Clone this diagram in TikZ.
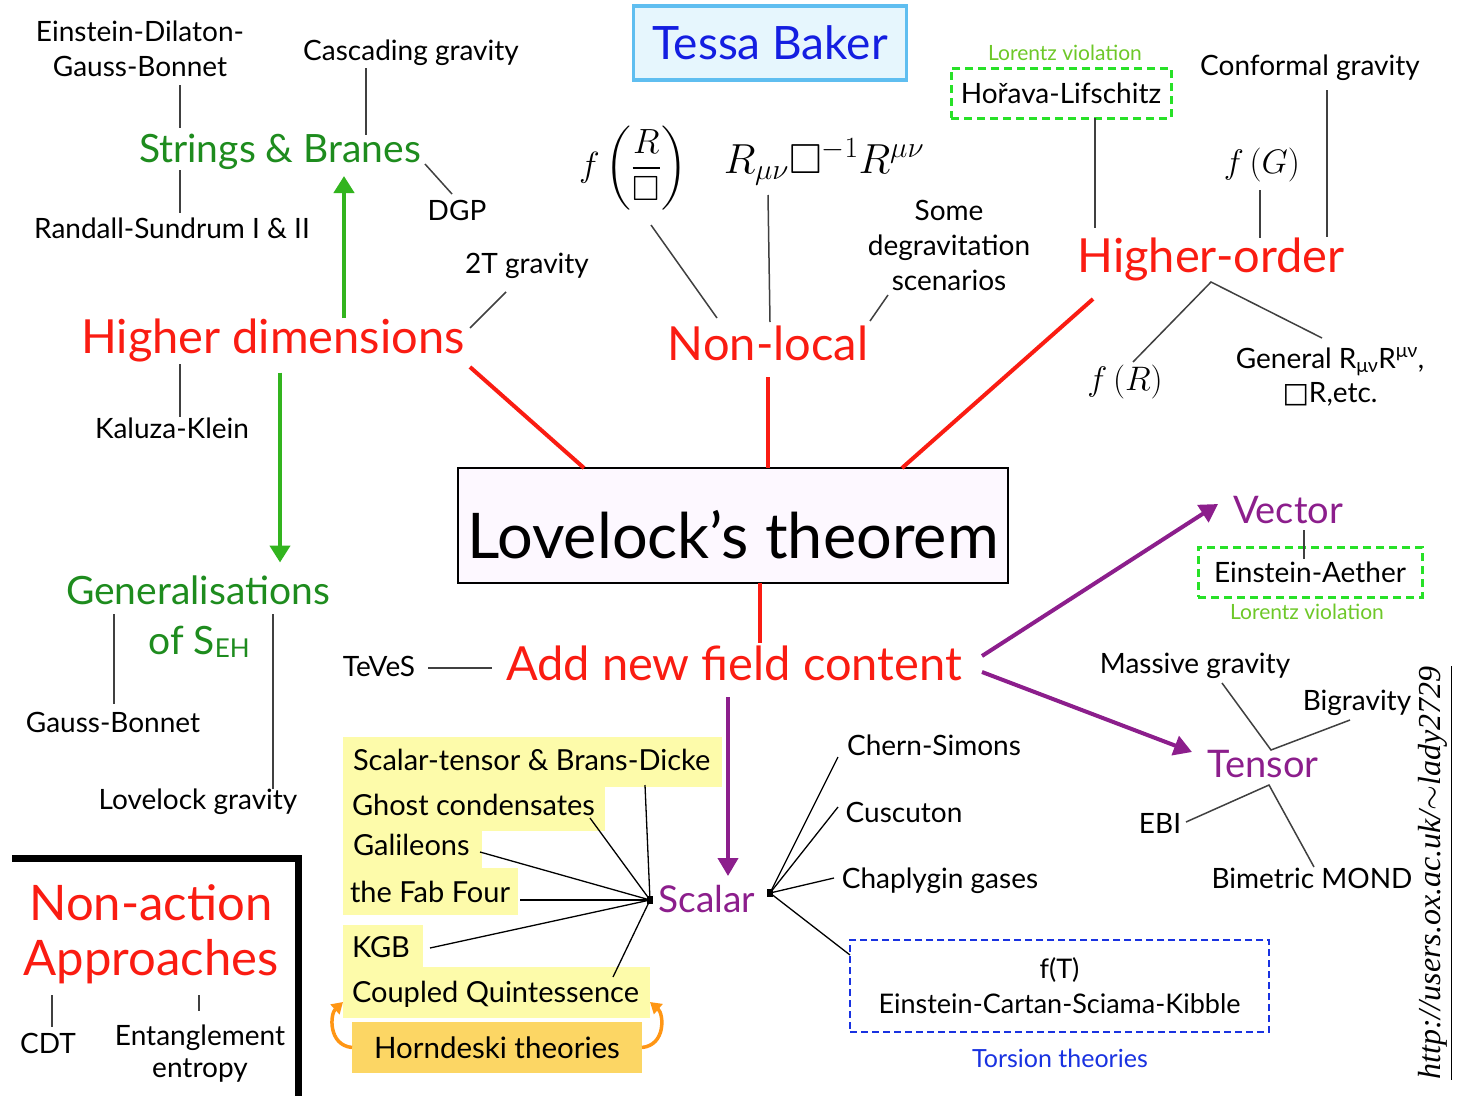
\RequirePackage{fix-cm}
\documentclass[tikz,border=0pt]{standalone}
\usepackage{amssymb}
\usepackage[no-math]{fontspec}
\setmainfont{Lato}
\newfontfamily\djv{DejaVu Sans}
\newfontfamily\urlfont{Liberation Serif}
\usetikzlibrary{arrows.meta}
\definecolor{hred}{RGB}{250,28,18}
\definecolor{dgreen}{RGB}{30,140,30}
\definecolor{agreen}{RGB}{50,180,30}
\definecolor{lgreen}{RGB}{40,225,40}
\definecolor{lvgreen}{RGB}{110,200,40}
\definecolor{purp}{RGB}{140,30,140}
\definecolor{tblue}{RGB}{20,30,225}
\definecolor{tboxfill}{RGB}{230,246,253}
\definecolor{tboxdraw}{RGB}{95,190,240}
\definecolor{yel}{RGB}{253,251,170}
\definecolor{dyel}{RGB}{252,214,100}
\definecolor{orng}{RGB}{255,150,20}
\definecolor{lavfill}{RGB}{253,248,255}
\definecolor{torblue}{RGB}{25,50,225}
\newcommand\fsz[2]{\fontsize{#1}{#2}\selectfont}
\begin{document}
\begin{tikzpicture}[x=1pt,y=-1pt,
  every node/.style={inner sep=0pt, outer sep=0pt},
  lbl/.style={font=\fsz{28}{34}, anchor=base},
  redhead/.style={font=\fsz{47}{54}, text=hred, anchor=base},
  grnhead/.style={font=\fsz{39}{46}, text=dgreen, anchor=base},
  purhead/.style={font=\fsz{38}{44}, text=purp, anchor=base},
  lvtext/.style={font=\fsz{21}{25}, text=lvgreen, anchor=base},
  ylbl/.style={font=\fsz{29}{34}, anchor=base west},
  conn/.style={draw=black!75, line width=1.5pt},
  sconn/.style={draw=black, line width=1.3pt},
  redconn/.style={draw=hred, line width=4pt},
  grnarrow/.style={draw=agreen, line width=4.5pt, -{Triangle[length=17pt,width=20pt]}},
  purarrow/.style={draw=purp, line width=4pt, -{Triangle[length=18pt,width=20pt]}},
  oarrow/.style={draw=orng, line width=3.5pt, -{Triangle[length=11pt,width=13pt]}},
  titlebox/.style={fill=tboxfill, draw=tboxdraw, line width=3.5pt, minimum width=273pt, minimum height=74pt, font=\fsz{46}{52}, text=tblue},
  lovbox/.style={fill=lavfill, draw=black, line width=2.5pt, minimum width=550pt, minimum height=115pt, text height=65pt, text depth=0pt, font=\fsz{63}{70}},
  lorbox/.style={draw=lgreen, line width=3pt, dash pattern=on 8pt off 5pt, minimum width=220pt, minimum height=50pt, font=\fsz{28}{34}},
  torbox/.style={draw=torblue, line width=2.5pt, dash pattern=on 7pt off 4pt, minimum width=419pt, minimum height=92pt, align=center, font=\fsz{27}{35}},
  hbox/.style={fill=dyel, minimum width=290pt, minimum height=51pt, font=\fsz{29.5}{34}},
  dotn/.style={fill=black, minimum width=6pt, minimum height=8pt}
]
\fill[white] (0,0) rectangle (1459,1095);
\useasboundingbox (0,0) rectangle (1459,1095);

% yellow highlights
\fill[yel] (343,737) rectangle (722,787);
\fill[yel] (343,786) rectangle (605,831);
\fill[yel] (343,830) rectangle (482,869);
\fill[yel] (343,868) rectangle (518,915);
\fill[yel] (343,925) rectangle (423,968);
\fill[yel] (343,967) rectangle (650,1018);

% ---------- nodes: top left
\node[lbl] (ed1) at (140,41) {Einstein-Dilaton-};
\node[lbl] (ed2) at (140,76) {Gauss-Bonnet};
\node[lbl] (cas) at (411,60) {Cascading gravity};
\node[grnhead] (sb) at (280,162) {Strings \& Branes};
\node[lbl] (rs) at (172,238) {Randall-Sundrum I \& II};
\node[lbl] (dgp) at (457,220) {DGP};
\node[lbl] (tt) at (527,273) {2T gravity};
\node[redhead] (hd) at (273,353) {Higher dimensions};
\node[lbl] (kk) at (172,438) {Kaluza-Klein};
\node[grnhead] (gen1) at (198,604) {Generalisations};
\node[grnhead] (gen2) at (199,654) {of S\raisebox{-3pt}{\fsz{26}{30}EH}};
\node[lbl] (gb) at (113,732) {Gauss-Bonnet};
\node[lbl] (lg) at (198,809.5) {Lovelock gravity};
\node[lbl] (teves) at (379,676.5) {TeVeS};

% ---------- top middle
\node[titlebox] (tessa) at (770,43) {Tessa Baker};
\node[font=\fsz{35}{40}] (fr) at (633,168) {$\displaystyle f\left(\frac{R}{\Box}\right)$};
\node[anchor=base, font=\fsz{42}{48}] (rr) at (824,173) {$R_{\mu\nu}\Box^{-1}R^{\mu\nu}$};
\node[redhead] (nl) at (768,360) {Non-local};
\node[lbl] (some1) at (949,220) {Some};
\node[lbl] (some2) at (949,255) {degravitation};
\node[lbl] (some3) at (949,290) {scenarios};

% ---------- top right
\node[lvtext] (lv1) at (1065,60) {Lorentz violation};
\node[lorbox] (hl) at (1061,93) {Hořava-Lifschitz};
\node[lbl] (cg) at (1310,75) {Conformal gravity};
\node[font=\fsz{34}{40}] (fg) at (1262,165) {$f\left(G\right)$};
\node[redhead] (ho) at (1211,272) {Higher-order};
\node[font=\fsz{34}{40}] (fR) at (1125,382) {$f\left(R\right)$};
\node[lbl] (gen) at (1330,368) {General R\textsubscript{μν}R\textsuperscript{μν},};
\node[lbl] (etc) at (1330,402) {{\djv □}R,etc.};

% ---------- centre
\node[lovbox] (lov) at (733,525.5) {Lovelock’s theorem};
\node[redhead] (anf) at (734,680) {Add new field content};

% ---------- right
\node[purhead] (vec) at (1288,523) {Vector};
\node[lorbox, minimum width=224pt] (ea) at (1310,572) {Einstein-Aether};
\node[lvtext] (lv2) at (1307,619) {Lorentz violation};
\node[purhead] (ten) at (1263,777) {Tensor};
\node[lbl] (mg) at (1195,673) {Massive gravity};
\node[lbl] (bg) at (1357,710) {Bigravity};
\node[lbl] (ebi) at (1160,833) {EBI};
\node[lbl] (bm) at (1312,888) {Bimetric MOND};

% ---------- scalar
\node[purhead, font=\fsz{37}{42}] (sc) at (707,912) {Scalar};
\node[dotn] (dl) at (650,900) {};
\node[dotn] (dr) at (770,893) {};
\node[ylbl] (stbd) at (353,770) {Scalar-tensor \& Brans-Dicke};
\node[ylbl] (gh) at (352,815) {Ghost condensates};
\node[ylbl] (gal) at (353,855) {Galileons};
\node[ylbl] (ff) at (350,902) {the Fab Four};
\node[ylbl] (kgb) at (352,957) {KGB};
\node[ylbl] (cq) at (352,1002) {Coupled Quintessence};
\node[hbox] (hr) at (497,1047.5) {Horndeski theories};
\node[lbl] (cs) at (934,755) {Chern-Simons};
\node[lbl] (cu) at (904,822) {Cuscuton};
\node[lbl] (ch) at (940,888) {Chaplygin gases};
\node[torbox] (tor) at (1059.5,986) {f(T)\\Einstein-Cartan-Sciama-Kibble};
\node[font=\fsz{25}{30}, text=torblue, anchor=base] (ts) at (1060,1067) {Torsion theories};

% ---------- non-action
\draw[line width=7pt] (12,858) -- (298,858) -- (298,1100);
\node[redhead, font=\fsz{49}{56}] (na1) at (151,920) {Non-action};
\node[redhead, font=\fsz{49}{56}] (na2) at (151,975) {Approaches};
\node[lbl] (cdt) at (48,1053) {CDT};
\node[lbl] (ent1) at (200,1045) {Entanglement};
\node[lbl] (ent2) at (200,1077) {entropy};

% ---------- url
\node[rotate=90, anchor=base, font=\urlfont\itshape\fsz{32}{36}] (url) at (1440,873) {\underline{http://users.ox.ac.uk/$\sim$lady2729}};

% ---------- connectors top left
\draw[conn] ([shift={(40,9)}]ed2.base) -- ([shift={(-100,-34)}]sb.base);
\draw[conn] ([shift={(-100,8)}]sb.base) -- ([shift={(8,-25)}]rs.base);
\draw[conn] ([shift={(-45,8)}]cas.base) -- ([shift={(86,-27)}]sb.base);
\draw[conn] ([shift={(145,2)}]sb.base) -- ([shift={(-5,-26)}]dgp.base);
\draw[conn] ([shift={(197,-25)}]hd.base) -- ([shift={(-21,19)}]tt.base);
\draw[conn] ([shift={(-93,11)}]hd.base) -- ([shift={(8,-21)}]kk.base);
\draw[grnarrow] ([shift={(71,-35)}]hd.base) -- ([shift={(64,14)}]sb.base);
\draw[grnarrow] ([shift={(7,19.5)}]hd.base) -- ([shift={(82,-41.5)}]gen1.base);
\draw[conn] ([shift={(-84,10)}]gen1.base) -- ([shift={(1,-28)}]gb.base);
\draw[conn] ([shift={(75,10)}]gen1.base) -- ([shift={(75,-20.5)}]lg.base);
\draw[conn] ([shift={(49,-8.5)}]teves.base) -- ([shift={(-242,-12)}]anf.base);

% ---------- red
\draw[redconn] ([shift={(197,14)}]hd.base) -- ([shift={(-149,0)}]lov.north);
\draw[redconn] ([shift={(0,17)}]nl.base) -- ([shift={(35,0)}]lov.north);
\draw[redconn] ([shift={(-118,27)}]ho.base) -- ([shift={(169,0)}]lov.north);
\draw[redconn] ([shift={(27,0)}]lov.south) -- ([shift={(26,-37)}]anf.base);

% ---------- top middle / right connectors
\draw[conn] ([shift={(18,57)}]fr.center) -- ([shift={(-51,-42)}]nl.base);
\draw[conn] ([shift={(-56,22)}]rr.base) -- ([shift={(2,-38)}]nl.base);
\draw[conn] ([shift={(-61,5)}]some3.base) -- ([shift={(102,-39)}]nl.base);
\draw[conn] ([shift={(34,0)}]hl.south) -- ([shift={(-116,-44)}]ho.base);
\draw[conn] ([shift={(-2,25)}]fg.center) -- ([shift={(49,-34)}]ho.base);
\draw[conn] ([shift={(17,15)}]cg.base) -- ([shift={(116,-35)}]ho.base);
\draw[conn] ([shift={(8,-20)}]fR.center) -- ([shift={(0,10)}]ho.base) -- ([shift={(-8,-30)}]gen.base);

% ---------- purple
\draw[purarrow] ([shift={(248,-24)}]anf.base) -- ([shift={(-70,-19)}]vec.base);
\draw[purarrow] ([shift={(248,-8)}]anf.base) -- ([shift={(-71,-25)}]ten.base);
\draw[purarrow] ([shift={(-6,17)}]anf.base) -- ([shift={(21,-36)}]sc.base);
\draw[conn] ([shift={(16,7)}]vec.base) -- ([shift={(-6,12)}]ea.north);
\draw[conn] ([shift={(27,10)}]mg.base) -- ([shift={(8,-27)}]ten.base) -- ([shift={(-7,10)}]bg.base);
\draw[conn] ([shift={(26,-11)}]ebi.base) -- ([shift={(6,8)}]ten.base) -- ([shift={(2,-21)}]bm.base);

% ---------- scalar connectors
\draw[sconn] (dl.center) -- ([shift={(292,15)}]stbd.base west);
\draw[sconn] (dl.center) -- ([shift={(238,3)}]gh.base west);
\draw[sconn] (dl.center) -- ([shift={(127,-3)}]gal.base west);
\draw[sconn] (dl.center) -- ([shift={(170,-2)}]ff.base west);
\draw[sconn] (dl.center) -- ([shift={(78,-9)}]kgb.base west);
\draw[sconn] (dl.center) -- ([shift={(261,-25)}]cq.base west);
\draw[sconn] (dr.center) -- ([shift={(-96,2)}]cs.base);
\draw[sconn] (dr.center) -- ([shift={(-66,-15)}]cu.base);
\draw[sconn] (dr.center) -- ([shift={(-106,-10)}]ch.base);
\draw[sconn] (dr.center) -- ([shift={(0,15)}]tor.north west);
\draw[oarrow] (hr.west) .. controls (328,1045) and (330,1014) .. ([shift={(-9,-45.5)}]hr.west);
\draw[oarrow] (hr.east) .. controls (666,1045) and (664,1014) .. ([shift={(8,-45.5)}]hr.east);

% ---------- non-action connectors
\draw[conn] ([shift={(-99,20)}]na2.base) -- ([shift={(4,-26)}]cdt.base);
\draw[conn] ([shift={(48,20)}]na2.base) -- ([shift={(-1,-34)}]ent1.base);
\end{tikzpicture}
\end{document}
